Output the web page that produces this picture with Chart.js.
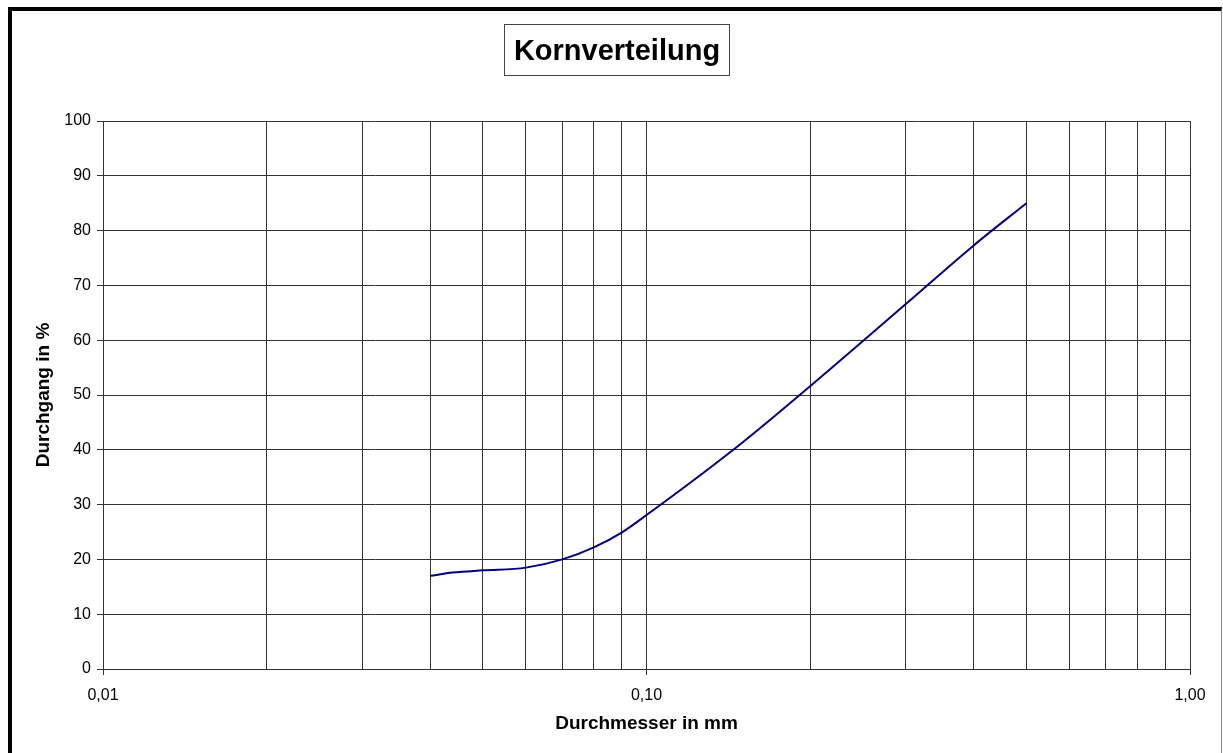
<!DOCTYPE html>
<html>
<head>
<meta charset="utf-8">
<script src="https://cdn.jsdelivr.net/npm/chart.js@4"></script>
<style>
  body { margin: 0; background: #fff; }
  #frame { position: absolute; left: 8px; top: 7px; width: 1209px; height: 760px;
           border-left: 4px solid #000; border-top: 4px solid #000; border-right: 1px solid #888; }
  #title { position: absolute; left: 504px; top: 24px; width: 224px; height: 50px;
           border: 1px solid #444; font: bold 29px "Liberation Sans", Arial, sans-serif;
           text-align: center; line-height: 50px; color: #000; }
  canvas { position: absolute; left: 0; top: 0; }
</style>
</head>
<body>
<div id="frame"></div>
<canvas id="chart" width="1223" height="753"></canvas>
<div id="title">Kornverteilung</div>
<script>
// Durchmesser (mm) und Durchgang (%)
const diameters = [0.04, 0.044, 0.05, 0.06, 0.07, 0.08, 0.09, 0.1, 0.15, 0.2, 0.3, 0.4, 0.5];
const passing = [17.0, 17.6, 18.0, 18.5, 20.0, 22.2, 24.9, 28.1, 41.3, 51.6, 66.6, 77.3, 85.0];
const xTickValues = [0.01, 0.02, 0.03, 0.04, 0.05, 0.06, 0.07, 0.08, 0.09,
                     0.1, 0.2, 0.3, 0.4, 0.5, 0.6, 0.7, 0.8, 0.9, 1];
const xLabelValues = [0.01, 0.1, 1];

const font = "'Liberation Sans', Arial, sans-serif";

function isMajor(v) {
    return xLabelValues.some(m => Math.abs(m - v) < 1e-9);
}

const ctx = document.getElementById("chart").getContext("2d");
new Chart(ctx, {
    type: 'scatter',
    data: {
        datasets: [{
            data: diameters.map((d, i) => ({ x: d, y: passing[i] })),
            showLine: true,
            borderColor: '#000080',
            borderWidth: 2,
            pointRadius: 0,
            cubicInterpolationMode: 'monotone'
        }]
    },
    options: {
        responsive: false,
        animation: false,
        layout: { padding: { top: 121, right: 33, left: 0, bottom: 0 } },
        plugins: { legend: { display: false }, tooltip: { enabled: false } },
        scales: {
            x: {
                type: 'logarithmic',
                min: 0.01,
                max: 1,
                afterBuildTicks: scale => {
                    scale.ticks = xTickValues.map(v => ({ value: v }));
                },
                afterFit: scale => { scale.height = 84; },
                grid: {
                    color: '#333',
                    lineWidth: 1,
                    tickLength: 6,
                    tickColor: c => isMajor(c.tick.value) ? '#333' : 'rgba(0,0,0,0)'
                },
                border: { color: '#333' },
                ticks: {
                    autoSkip: false,
                    maxRotation: 0,
                    padding: 11,
                    color: '#000',
                    font: { family: font, size: 16 },
                    callback: v => isMajor(v) ? v.toFixed(2).replace('.', ',') : ''
                },
                title: {
                    display: true,
                    text: 'Durchmesser in mm',
                    color: '#000',
                    font: { family: font, size: 19, weight: 'bold' },
                    padding: { top: 0, bottom: 18 }
                }
            },
            y: {
                min: 0,
                max: 100,
                afterFit: scale => { scale.width = 103; },
                grid: { color: '#333', lineWidth: 1, tickLength: 6 },
                border: { color: '#333' },
                ticks: {
                    stepSize: 10,
                    padding: 6,
                    color: '#000',
                    font: { family: font, size: 16 }
                },
                title: {
                    display: true,
                    text: 'Durchgang in %',
                    color: '#000',
                    font: { family: font, size: 19, weight: 'bold' },
                    padding: { top: 32, bottom: 0 }
                }
            }
        }
    }
});
</script>
</body>
</html>
